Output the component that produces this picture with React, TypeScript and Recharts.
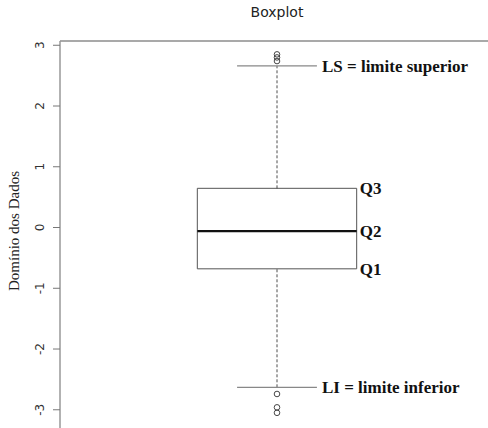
import { ComposedChart, XAxis, YAxis, Scatter, ReferenceLine, ReferenceArea, ReferenceDot } from 'recharts';

// five-number summary of the sample
const stats = { li: -2.63, q1: -0.68, q2: -0.06, q3: 0.645, ls: 2.66 };
const outliersHigh = [2.85, 2.8, 2.74];
const outliersLow = [-2.74, -2.96, -3.05];
const yTicks = [-3, -2, -1, 0, 1, 2, 3];

const boxHalf = 0.1836;
const capHalf = 0.092;

const outlierData = [...outliersHigh, ...outliersLow].map((v) => ({ x: 1, y: v }));

const serifLabel = {
  fontFamily: 'Liberation Serif',
  fontWeight: 'bold',
  fontSize: 17,
  fill: '#111',
};

const RotTick = (props: any) => {
  const { y, payload } = props;
  return (
    <text
      transform={`translate(40,${y}) rotate(-90)`}
      textAnchor="middle"
      dominantBaseline="central"
      fontFamily="DejaVu Sans"
      fontSize={12}
      fill="#333"
    >
      {payload.value}
    </text>
  );
};

const Circle = (props: any) => {
  const { cx, cy } = props;
  return <circle cx={cx} cy={cy} r={2.8} fill="none" stroke="#333" strokeWidth={0.9} />;
};

export default function App() {
  return (
    <div style={{ position: 'absolute', left: 0, top: 0, width: 488, height: 428, overflow: 'hidden', background: '#fff' }}>
      <div
        style={{
          position: 'absolute',
          top: 4,
          left: 0,
          width: 554,
          textAlign: 'center',
          fontFamily: 'DejaVu Sans',
          fontSize: 14,
          color: '#222',
        }}
      >
        Boxplot
      </div>
      <ComposedChart width={494} height={428} data={outlierData} margin={{ top: 41, right: 0, bottom: 0, left: 0 }}>
        <XAxis type="number" dataKey="x" domain={[0.5, 1.5]} hide />
        <YAxis
          type="number"
          dataKey="y"
          width={60}
          domain={[-3.3, 3.07]}
          ticks={yTicks}
          tickSize={7}
          tick={<RotTick />}
          axisLine={{ stroke: '#999', strokeWidth: 1.5 }}
          tickLine={{ stroke: '#777' }}
          allowDataOverflow
          label={{
            content: () => (
              <text
                transform="translate(14,231) rotate(-90)"
                textAnchor="middle"
                dominantBaseline="central"
                fontFamily="Liberation Serif"
                fontSize={15}
                fill="#222"
              >
                Domínio dos Dados
              </text>
            ),
          }}
        />
        <ReferenceLine y={3.07} stroke="#555" strokeWidth={1.2} ifOverflow="visible" />

        {/* whiskers */}
        <ReferenceLine
          segment={[{ x: 1, y: stats.q3 }, { x: 1, y: stats.ls }]}
          stroke="#222"
          strokeWidth={0.8}
          strokeDasharray="3 2"
        />
        <ReferenceLine
          segment={[{ x: 1, y: stats.li }, { x: 1, y: stats.q1 }]}
          stroke="#222"
          strokeWidth={0.8}
          strokeDasharray="3 2"
        />
        <ReferenceLine
          segment={[{ x: 1 - capHalf, y: stats.ls }, { x: 1 + capHalf, y: stats.ls }]}
          stroke="#888"
          strokeWidth={1.2}
        />
        <ReferenceLine
          segment={[{ x: 1 - capHalf, y: stats.li }, { x: 1 + capHalf, y: stats.li }]}
          stroke="#888"
          strokeWidth={1.2}
        />

        {/* box and median */}
        <ReferenceArea
          x1={1 - boxHalf}
          x2={1 + boxHalf}
          y1={stats.q1}
          y2={stats.q3}
          fill="#fff"
          fillOpacity={1}
          stroke="#555"
          strokeWidth={1}
        />
        <ReferenceLine
          segment={[{ x: 1 - boxHalf, y: stats.q2 }, { x: 1 + boxHalf, y: stats.q2 }]}
          stroke="#111"
          strokeWidth={2.4}
        />

        <Scatter dataKey="y" shape={<Circle />} isAnimationActive={false} />

        {/* annotations */}
        <ReferenceDot
          x={1 + capHalf}
          y={stats.ls}
          r={0}
          fill="none"
          stroke="none"
          label={{ value: 'LS = limite superior', position: 'right', offset: 5, ...serifLabel }}
        />
        <ReferenceDot
          x={1 + capHalf}
          y={stats.li}
          r={0}
          fill="none"
          stroke="none"
          label={{ value: 'LI = limite inferior', position: 'right', offset: 5, ...serifLabel }}
        />
        <ReferenceDot
          x={1 + boxHalf}
          y={stats.q3}
          r={0}
          fill="none"
          stroke="none"
          label={{ value: 'Q3', position: 'right', offset: 3, ...serifLabel }}
        />
        <ReferenceDot
          x={1 + boxHalf}
          y={stats.q2}
          r={0}
          fill="none"
          stroke="none"
          label={{ value: 'Q2', position: 'right', offset: 3, ...serifLabel }}
        />
        <ReferenceDot
          x={1 + boxHalf}
          y={stats.q1}
          r={0}
          fill="none"
          stroke="none"
          label={{ value: 'Q1', position: 'right', offset: 3, ...serifLabel }}
        />
      </ComposedChart>
    </div>
  );
}
